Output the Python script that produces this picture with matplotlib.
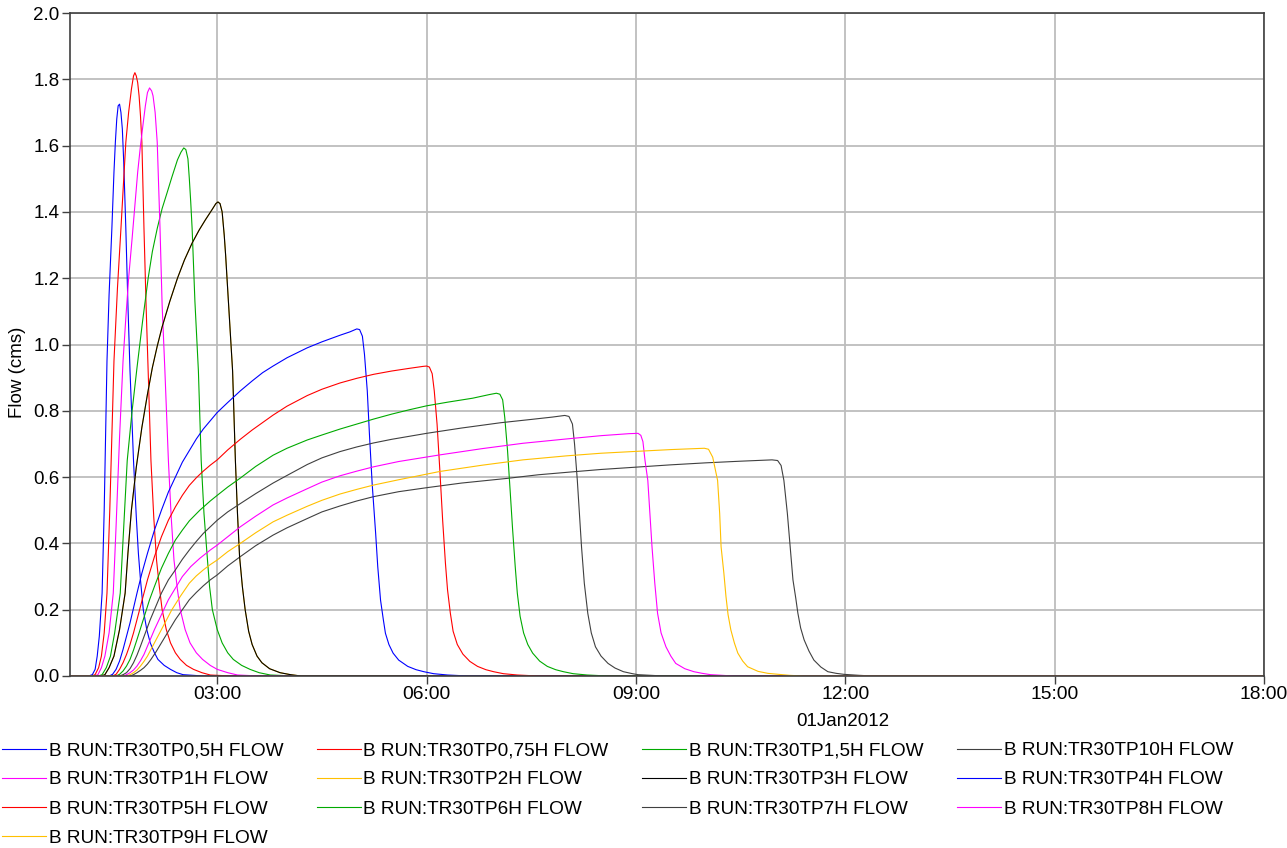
import matplotlib
matplotlib.use("Agg")
import matplotlib.pyplot as plt
from matplotlib.ticker import FixedLocator, FuncFormatter

plt.rcParams['font.family'] = ['Liberation Sans', 'DejaVu Sans']

# time in hours after 01Jan2012 00:00, flow in cms
t_tp0_5 = [0.89, 1.11, 1.17, 1.21, 1.25, 1.28, 1.31, 1.35, 1.38, 1.42, 1.45, 1.49, 1.52, 1.54, 1.56, 1.58, 1.60, 1.62, 1.64, 1.66,
           1.69, 1.72, 1.75, 1.78, 1.80, 1.84, 1.87, 1.90, 1.94, 1.99, 2.04, 2.10, 2.15, 2.24, 2.33, 2.42, 2.51, 2.8, 18.0]
q_tp0_5 = [0, 0, 0.001, 0.004, 0.02, 0.06, 0.12, 0.25, 0.5, 0.95, 1.15, 1.35, 1.52, 1.61, 1.68, 1.72, 1.725, 1.70, 1.65, 1.55,
           1.35, 1.12, 0.92, 0.76, 0.65, 0.48, 0.37, 0.29, 0.2, 0.14, 0.1, 0.07, 0.05, 0.032, 0.02, 0.01, 0.004, 0, 0]

t_tp0_75 = [0.89, 1.17, 1.21, 1.25, 1.30, 1.34, 1.38, 1.42, 1.46, 1.52, 1.57, 1.62, 1.66, 1.69, 1.73, 1.77, 1.80, 1.82, 1.84, 1.86,
            1.88, 1.90, 1.92, 1.95, 1.98, 2.01, 2.05, 2.09, 2.13, 2.17, 2.21, 2.27, 2.33, 2.40, 2.47, 2.56, 2.66, 2.78, 2.90, 3.2, 18.0]
q_tp0_75 = [0, 0, 0.001, 0.004, 0.025, 0.06, 0.13, 0.25, 0.5, 0.95, 1.17, 1.35, 1.5, 1.61, 1.70, 1.77, 1.81, 1.82, 1.81, 1.79,
            1.75, 1.69, 1.61, 1.35, 1.12, 0.92, 0.65, 0.48, 0.35, 0.27, 0.2, 0.14, 0.1, 0.07, 0.05, 0.032, 0.02, 0.01, 0.003, 0, 0]

t_tp1 = [0.89, 1.21, 1.25, 1.29, 1.34, 1.39, 1.45, 1.51, 1.55, 1.60, 1.65, 1.69, 1.73, 1.78, 1.82, 1.86, 1.90, 1.94, 1.97, 2.00,
         2.03, 2.06, 2.08, 2.11, 2.14, 2.18, 2.21, 2.25, 2.30, 2.34, 2.38, 2.43, 2.47, 2.54, 2.61, 2.70, 2.79, 2.90, 3.0, 3.15,
         3.29, 3.6, 18.0]
q_tp1 = [0, 0, 0.001, 0.004, 0.025, 0.06, 0.13, 0.25, 0.45, 0.72, 0.95, 1.08, 1.2, 1.32, 1.42, 1.52, 1.60, 1.67, 1.72, 1.76,
         1.774, 1.765, 1.75, 1.70, 1.61, 1.35, 1.12, 0.92, 0.65, 0.48, 0.35, 0.26, 0.2, 0.14, 0.1, 0.07, 0.05, 0.032, 0.02, 0.01,
         0.003, 0, 0]

t_tp1_5 = [0.89, 1.27, 1.31, 1.35, 1.41, 1.47, 1.53, 1.61, 1.66, 1.71, 1.78, 1.85, 1.93, 2.01, 2.07, 2.14, 2.21, 2.28, 2.35, 2.43,
           2.48, 2.52, 2.55, 2.58, 2.60, 2.62, 2.64, 2.68, 2.73, 2.77, 2.81, 2.86, 2.89, 2.93, 3.0, 3.07, 3.15, 3.23, 3.35, 3.47,
           3.6, 3.76, 4.1, 18.0]
q_tp1_5 = [0, 0, 0.001, 0.004, 0.025, 0.06, 0.13, 0.25, 0.45, 0.65, 0.8, 0.93, 1.07, 1.2, 1.28, 1.35, 1.41, 1.457, 1.505, 1.557,
           1.58, 1.593, 1.588, 1.56, 1.50, 1.43, 1.35, 1.13, 0.92, 0.65, 0.49, 0.35, 0.27, 0.2, 0.14, 0.1, 0.07, 0.05, 0.032, 0.02,
           0.01, 0.003, 0, 0]

t_tp2 = [0.89, 1.30, 1.35, 1.39, 1.45, 1.52, 1.60, 1.68, 1.72, 1.77, 1.84, 1.92, 2.0, 2.07, 2.14, 2.21, 2.32, 2.43, 2.53, 2.64,
         2.74, 2.83, 2.92, 2.98, 3.01, 3.04, 3.07, 3.10, 3.12, 3.14, 3.18, 3.22, 3.26, 3.29, 3.32, 3.36, 3.40, 3.45, 3.50, 3.57,
         3.64, 3.75, 3.90, 4.05, 4.2, 18.0]
q_tp2 = [0, 0, 0.001, 0.004, 0.025, 0.06, 0.14, 0.25, 0.37, 0.5, 0.63, 0.75, 0.85, 0.93, 0.995, 1.053, 1.13, 1.2, 1.255, 1.306,
         1.345, 1.376, 1.405, 1.425, 1.43, 1.425, 1.40, 1.33, 1.27, 1.2, 1.06, 0.92, 0.65, 0.49, 0.36, 0.27, 0.2, 0.135, 0.095, 0.06,
         0.04, 0.022, 0.01, 0.004, 0, 0]

# TP3H lies exactly on top of TP2H in the chart
t_tp3 = t_tp2
q_tp3 = q_tp2

t_tp4 = [0.89, 1.45, 1.50, 1.55, 1.60, 1.65, 1.70, 1.75, 1.80, 1.85, 1.92, 2.0, 2.1, 2.2, 2.3, 2.4, 2.5, 2.6, 2.7, 2.8,
         2.9, 3.0, 3.15, 3.33, 3.5, 3.65, 3.8, 4.0, 4.29, 4.5, 4.76, 4.9, 5.0, 5.04, 5.08, 5.11, 5.15, 5.18, 5.22, 5.27,
         5.30, 5.34, 5.38, 5.41, 5.46, 5.52, 5.60, 5.73, 5.85, 5.96, 6.1, 6.3, 6.6, 18.0]
q_tp4 = [0, 0, 0.005, 0.02, 0.045, 0.08, 0.12, 0.16, 0.205, 0.25, 0.31, 0.37, 0.44, 0.50, 0.555, 0.60, 0.645, 0.68, 0.715, 0.745,
         0.77, 0.795, 0.825, 0.86, 0.89, 0.915, 0.935, 0.96, 0.99, 1.008, 1.028, 1.038, 1.047, 1.045, 1.025, 0.97, 0.86, 0.733, 0.58, 0.43,
         0.33, 0.229, 0.17, 0.129, 0.095, 0.069, 0.048, 0.029, 0.019, 0.013, 0.007, 0.003, 0, 0]

t_tp5 = [0.89, 1.50, 1.55, 1.60, 1.65, 1.70, 1.75, 1.80, 1.85, 1.90, 2.0, 2.1, 2.2, 2.3, 2.4, 2.5, 2.6, 2.7, 2.8, 2.9,
         3.0, 3.15, 3.33, 3.5, 3.8, 4.0, 4.29, 4.5, 4.76, 5.0, 5.24, 5.5, 5.75, 5.95, 6.0, 6.04, 6.08, 6.11, 6.15, 6.19,
         6.23, 6.27, 6.30, 6.34, 6.38, 6.44, 6.52, 6.62, 6.73, 6.85, 6.96, 7.1, 7.3, 7.6, 18.0]
q_tp5 = [0, 0, 0.005, 0.02, 0.04, 0.065, 0.095, 0.13, 0.17, 0.21, 0.29, 0.36, 0.42, 0.47, 0.51, 0.545, 0.575, 0.598, 0.618, 0.636,
         0.652, 0.682, 0.714, 0.742, 0.787, 0.814, 0.846, 0.865, 0.884, 0.898, 0.910, 0.92, 0.928, 0.934, 0.935, 0.932, 0.912, 0.86, 0.76, 0.62,
         0.47, 0.34, 0.26, 0.19, 0.135, 0.095, 0.066, 0.044, 0.029, 0.019, 0.013, 0.007, 0.003, 0, 0]

t_tp6 = [0.89, 1.55, 1.60, 1.65, 1.70, 1.75, 1.80, 1.85, 1.91, 1.97, 2.03, 2.1, 2.2, 2.3, 2.4, 2.5, 2.6, 2.75, 2.9, 3.0,
         3.15, 3.33, 3.55, 3.8, 4.0, 4.29, 4.5, 4.76, 5.0, 5.24, 5.5, 5.75, 6.0, 6.3, 6.66, 6.9, 7.0, 7.05, 7.09, 7.12,
         7.16, 7.20, 7.23, 7.27, 7.30, 7.34, 7.39, 7.45, 7.52, 7.62, 7.73, 7.85, 7.96, 8.1, 8.3, 8.6, 18.0]
q_tp6 = [0, 0, 0.005, 0.015, 0.03, 0.05, 0.078, 0.11, 0.15, 0.19, 0.23, 0.27, 0.325, 0.37, 0.41, 0.44, 0.468, 0.50, 0.528, 0.545,
         0.57, 0.597, 0.632, 0.666, 0.687, 0.712, 0.727, 0.745, 0.76, 0.775, 0.79, 0.803, 0.815, 0.826, 0.838, 0.849, 0.853, 0.85, 0.833, 0.78,
         0.68, 0.55, 0.45, 0.33, 0.25, 0.18, 0.13, 0.095, 0.069, 0.045, 0.029, 0.019, 0.013, 0.007, 0.003, 0, 0]

t_tp7 = [0.89, 1.60, 1.65, 1.70, 1.75, 1.80, 1.85, 1.90, 1.97, 2.04, 2.12, 2.2, 2.3, 2.4, 2.5, 2.6, 2.7, 2.8, 2.9, 3.0,
         3.15, 3.33, 3.55, 3.8, 4.0, 4.29, 4.5, 4.76, 5.0, 5.24, 5.5, 6.0, 6.5, 7.06, 7.5, 7.8, 7.98, 8.04, 8.09, 8.12,
         8.16, 8.19, 8.22, 8.26, 8.31, 8.36, 8.42, 8.50, 8.60, 8.70, 8.82, 8.95, 9.03, 9.4, 18.0]
q_tp7 = [0, 0, 0.004, 0.01, 0.022, 0.04, 0.063, 0.09, 0.13, 0.17, 0.21, 0.25, 0.29, 0.32, 0.352, 0.38, 0.406, 0.43, 0.45, 0.47,
         0.495, 0.52, 0.55, 0.582, 0.605, 0.638, 0.658, 0.677, 0.691, 0.703, 0.714, 0.732, 0.748, 0.764, 0.774, 0.781, 0.786, 0.783, 0.76, 0.70,
         0.59, 0.49, 0.39, 0.28, 0.189, 0.13, 0.088, 0.06, 0.038, 0.024, 0.013, 0.007, 0.004, 0, 0]

t_tp8 = [0.89, 1.65, 1.70, 1.75, 1.80, 1.85, 1.90, 1.95, 2.02, 2.1, 2.2, 2.3, 2.4, 2.5, 2.62, 2.75, 2.9, 3.0, 3.15, 3.33,
         3.55, 3.8, 4.0, 4.29, 4.5, 4.76, 5.0, 5.24, 5.6, 6.19, 6.8, 7.38, 8.0, 8.5, 8.9, 9.03, 9.07, 9.10, 9.13, 9.17,
         9.20, 9.23, 9.27, 9.31, 9.36, 9.43, 9.50, 9.57, 9.70, 9.83, 9.95, 10.07, 10.4, 18.0]
q_tp8 = [0, 0, 0.004, 0.01, 0.018, 0.03, 0.046, 0.065, 0.10, 0.14, 0.185, 0.23, 0.265, 0.30, 0.33, 0.355, 0.38, 0.395, 0.42, 0.45,
         0.482, 0.516, 0.537, 0.565, 0.585, 0.604, 0.618, 0.631, 0.647, 0.667, 0.686, 0.702, 0.715, 0.725, 0.731, 0.732, 0.726, 0.707, 0.65, 0.59,
         0.49, 0.39, 0.28, 0.189, 0.13, 0.088, 0.06, 0.038, 0.022, 0.013, 0.008, 0.004, 0, 0]

t_tp9 = [0.89, 1.70, 1.75, 1.80, 1.85, 1.90, 1.95, 2.0, 2.07, 2.15, 2.25, 2.35, 2.47, 2.6, 2.7, 2.8, 2.9, 3.0, 3.15, 3.33,
         3.55, 3.8, 4.0, 4.29, 4.5, 4.76, 5.0, 5.24, 5.6, 6.19, 6.8, 7.38, 8.0, 8.5, 9.04, 9.5, 9.98, 10.04, 10.1, 10.13,
         10.17, 10.20, 10.22, 10.26, 10.29, 10.32, 10.36, 10.41, 10.46, 10.53, 10.6, 10.75, 10.89, 11.2, 11.4, 18.0]
q_tp9 = [0, 0, 0.004, 0.01, 0.018, 0.03, 0.044, 0.06, 0.088, 0.12, 0.16, 0.20, 0.24, 0.28, 0.302, 0.32, 0.336, 0.35, 0.375, 0.40,
         0.432, 0.465, 0.485, 0.512, 0.53, 0.549, 0.563, 0.576, 0.592, 0.617, 0.636, 0.652, 0.664, 0.672, 0.678, 0.683, 0.687, 0.684, 0.66, 0.63,
         0.59, 0.49, 0.39, 0.31, 0.24, 0.185, 0.139, 0.1, 0.069, 0.045, 0.028, 0.014, 0.008, 0.002, 0, 0]

t_tp10 = [0.89, 1.75, 1.80, 1.85, 1.90, 1.95, 2.0, 2.05, 2.12, 2.2, 2.3, 2.4, 2.5, 2.6, 2.7, 2.8, 2.9, 3.0, 3.15, 3.33,
          3.55, 3.8, 4.0, 4.29, 4.5, 4.76, 5.0, 5.24, 5.6, 6.0, 6.5, 7.15, 7.6, 8.1, 8.5, 9.0, 9.5, 10.0, 10.5, 10.95,
          11.03, 11.08, 11.12, 11.17, 11.21, 11.25, 11.29, 11.32, 11.36, 11.41, 11.48, 11.55, 11.65, 11.75, 11.87, 11.98, 12.2, 12.4, 18.0]
q_tp10 = [0, 0, 0.004, 0.01, 0.017, 0.025, 0.036, 0.05, 0.072, 0.10, 0.135, 0.17, 0.20, 0.23, 0.252, 0.272, 0.29, 0.305, 0.332, 0.36,
          0.393, 0.425, 0.447, 0.475, 0.495, 0.513, 0.528, 0.541, 0.556, 0.568, 0.582, 0.596, 0.607, 0.616, 0.623, 0.63, 0.637, 0.643, 0.648, 0.652,
          0.65, 0.635, 0.59, 0.49, 0.39, 0.29, 0.235, 0.19, 0.145, 0.109, 0.075, 0.048, 0.027, 0.013, 0.008, 0.005, 0.002, 0, 0]

# drawing order as in the chart
series = [
    ("B RUN:TR30TP0,5H FLOW", t_tp0_5, q_tp0_5, "#0000ff"),
    ("B RUN:TR30TP0,75H FLOW", t_tp0_75, q_tp0_75, "#ff0000"),
    ("B RUN:TR30TP1,5H FLOW", t_tp1_5, q_tp1_5, "#00aa00"),
    ("B RUN:TR30TP10H FLOW", t_tp10, q_tp10, "#404040"),
    ("B RUN:TR30TP1H FLOW", t_tp1, q_tp1, "#ff00ff"),
    ("B RUN:TR30TP2H FLOW", t_tp2, q_tp2, "#ffc000"),
    ("B RUN:TR30TP3H FLOW", t_tp3, q_tp3, "#000000"),
    ("B RUN:TR30TP4H FLOW", t_tp4, q_tp4, "#0000ff"),
    ("B RUN:TR30TP5H FLOW", t_tp5, q_tp5, "#ff0000"),
    ("B RUN:TR30TP6H FLOW", t_tp6, q_tp6, "#00aa00"),
    ("B RUN:TR30TP7H FLOW", t_tp7, q_tp7, "#404040"),
    ("B RUN:TR30TP8H FLOW", t_tp8, q_tp8, "#ff00ff"),
    ("B RUN:TR30TP9H FLOW", t_tp9, q_tp9, "#ffc000"),
]

W, H = 1287, 848
fig = plt.figure(figsize=(W / 100, H / 100), dpi=100)
ax = fig.add_axes([70 / W, 1 - 676 / H, (1264 - 70) / W, (676 - 13) / H])

handles = []
for label, t, q, c in series:
    h, = ax.plot(t, q, color=c, lw=0.8, label=label)
    handles.append(h)

ax.set_xlim(0.89, 18)
ax.set_ylim(0, 2.0)
ax.xaxis.set_major_locator(FixedLocator([3, 6, 9, 12, 15, 18]))
ax.xaxis.set_major_formatter(FuncFormatter(lambda v, p: "%02d:00" % int(round(v))))
ax.yaxis.set_major_locator(FixedLocator([i * 0.2 for i in range(11)]))
ax.yaxis.set_major_formatter(FuncFormatter(lambda v, p: "%.1f" % v))
ax.grid(True, color="#bdbdbd", lw=1.3)
ax.set_axisbelow(True)
for sp in ax.spines.values():
    sp.set_color("#404040")
    sp.set_linewidth(1.2)
ax.tick_params(direction="out", length=5.5, width=1, color="#404040",
               labelsize=13.5, pad=2)
ax.tick_params(axis="x", labelsize=13.9)

fig.text(843 / W, 1 - 722 / H, "01Jan2012", ha="center", va="center", fontsize=13.5)
fig.text(18 / W, 1 - 372 / H, "Flow (cms)", rotation=90, ha="center", va="center", fontsize=13.5)

# legend is filled row by row (4 per row); matplotlib fills columns, so reorder
ncol = 4
nrow = -(-len(handles) // ncol)
leg_order = [r * ncol + c for c in range(ncol) for r in range(nrow) if r * ncol + c < len(handles)]
fig.legend(handles=[handles[i] for i in leg_order], loc="upper left",
           bbox_to_anchor=(2 / W, 1 - 742 / H),
           ncol=ncol, frameon=False, fontsize=13.7, handlelength=2.3,
           handletextpad=0.15, columnspacing=1.77, labelspacing=0.62,
           borderpad=0, borderaxespad=0)

fig.savefig("out.png", dpi=100)
